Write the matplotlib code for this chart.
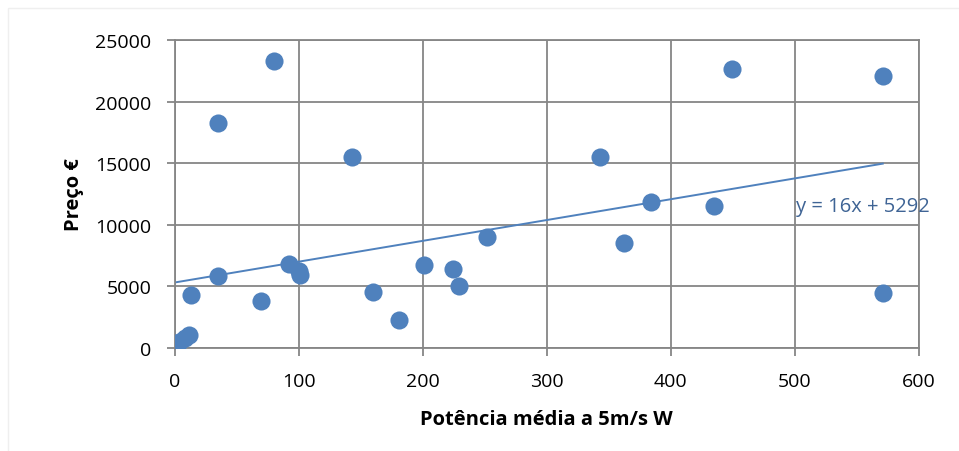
import matplotlib.pyplot as plt
from matplotlib.patches import Rectangle

# potência média a 5 m/s (W) e preço (€)
potencia = [3, 8, 11, 13, 35, 35, 69, 80, 92, 100, 101, 143, 160, 181,
            201, 224, 229, 252, 343, 362, 384, 435, 449, 571, 571]
preco = [500, 800, 1050, 4300, 5840, 18260, 3800, 23300, 6800, 6250, 5900,
         15500, 4550, 2270, 6740, 6400, 5030, 9000, 15500, 8520, 11850,
         11530, 22650, 22080, 4460]

# linha de tendência (como desenhada) e o rótulo da equação
trend_slope = 16.9
trend_intercept = 5320
trend_label = "y = 16x + 5292"

BLUE = "#4F81BD"
GRID = "#868686"

plt.rcParams["font.family"] = ["Open Sans", "DejaVu Sans"]

fig = plt.figure(figsize=(9.59, 4.52), dpi=100)
# moldura muito clara da área do gráfico
fig.patches.append(Rectangle((8 / 959, -0.05), 1.1, 1 - 9 / 452 + 0.05,
                             transform=fig.transFigure, fill=False,
                             edgecolor="#EFEFEF", linewidth=1))
ax = fig.add_axes([0.1825, 0.228, 0.7755, 0.681])

ax.scatter(potencia, preco, s=170, color=BLUE, zorder=3, linewidths=0)

x_end = max(potencia)
ax.plot([0, x_end], [trend_intercept, trend_slope * x_end + trend_intercept],
        color=BLUE, lw=1.4, zorder=2)
ax.text(555, 10750, trend_label, color="#3F6495", fontsize=14.5,
        ha="center", va="bottom")

ax.set_xlim(0, 600)
ax.set_ylim(0, 25000)
ax.set_xticks(range(0, 601, 100))
ax.set_yticks(range(0, 25001, 5000))
ax.grid(True, color=GRID, linewidth=1.3)
ax.set_axisbelow(True)
for s in ax.spines.values():
    s.set_color(GRID)
    s.set_linewidth(1.3)
ax.tick_params(colors=GRID, labelcolor="black", labelsize=14, length=6, width=1.3,
               pad=11)

ax.set_xlabel("Potência média a 5m/s W", fontsize=14.5, fontweight="bold", labelpad=14)
ax.set_ylabel("Preço €", fontsize=14.5, fontweight="bold", labelpad=8)

fig.savefig("out.png", dpi=100)
